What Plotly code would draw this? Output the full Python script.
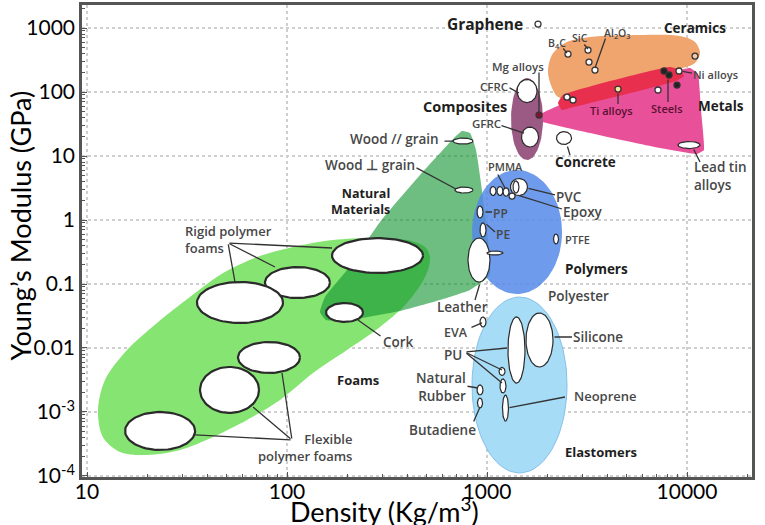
import numpy as np
import plotly.graph_objects as go

# ---------------- DATA (density kg/m3, Young's modulus GPa) ----------------
FOAMS_RHO = [518.8, 495.5, 398.1, 291.7, 199.5, 134.9, 92.3, 63.1, 42.7, 29.2, 19.95, 14.6,
             12.0, 11.35, 12.3, 15.85, 22.4, 32.7, 47.9, 70.8, 107.2, 169.8, 269.2, 398.1, 489.8]
FOAMS_E = [0.264, 0.138, 0.0505, 0.0213, 0.0093, 0.00407, 0.00154, 7.5e-4, 4.07e-4, 2.55e-4, 2.13e-4,
           2.37e-4, 4.07e-4, 1.07e-3, 3.16e-3, 0.0093, 0.0246, 0.0626, 0.1486, 0.264, 0.379, 0.487,
           0.523, 0.487, 0.379]

NATURAL_RHO = [749.9, 822.2, 881, 944, 1012, 1035, 822, 582, 367.3, 206.5, 156.7, 146.2, 154.9,
               199.5, 291.7, 462.4, 691.8]
NATURAL_E = [24.6, 22.9, 12.4, 2.94, 0.487, 0.138, 0.0806, 0.0562, 0.0379, 0.0274, 0.0274, 0.0365,
             0.0626, 0.1655, 0.931, 5.05, 19.8]

CERAMICS_RHO = [2138, 2018, 2113, 2455, 3273, 5821, 9226, 10965, 11614, 10965, 9550, 3673, 2541, 2265]
CERAMICS_E = [107.4, 205.4, 378.6, 583.4, 722.8, 778, 750, 604, 406, 284, 237, 115.5, 77.8, 83.5]

METALS_RHO = [1778, 2317, 10351, 11350, 11749, 12162, 11220, 7328, 1841]
METALS_E = [42.2, 62.7, 237, 191, 52.3, 12.4, 10.75, 13.3, 35.2]

TI_STEEL_RHO = [2371, 2265, 2399, 8222, 9226, 9661, 8810, 2600]
TI_STEEL_E = [52.3, 67.3, 89.8, 246, 221, 177.8, 148.6, 56.2]

# class envelopes drawn as ellipses: centre density, centre modulus, half-spans (decades)
CLASS_NAMES = ["Composites", "Polymers", "Elastomers"]
CLASS_RHO = [1585, 1413, 1454]
CLASS_E = [37.8, 0.649, 0.00264]
CLASS_DRHO = [0.08, 0.225, 0.2375]
CLASS_DE = [0.64, 0.969, 1.375]

# individual materials (ellipses)
MAT_NAMES = ["Rigid foam 1", "Rigid foam 2", "Rigid foam 3", "Cork", "Flexible foam 1",
             "Flexible foam 2", "Flexible foam 3", "Wood // grain", "Wood ⊥ grain", "CFRC", "GFRC",
             "Concrete", "Leather", "PVC", "PVC core", "PMMA a", "PMMA b", "PMMA c", "PP", "PE", "PTFE",
             "Polyester", "Silicone", "PU", "PU b", "PU c", "Neoprene", "EVA", "Natural rubber",
             "Butadiene", "Lead tin alloys"]
MAT_RHO = [283.5, 112.8, 58.2, 193.9, 81.3, 51.6, 23.2, 758.6, 767, 1585, 1641, 2427, 912, 1445, 1396,
           1072, 1161, 1245, 922.6, 955, 2213, 1096, 1830, 1404, 1189, 1202, 1237, 955, 922.6, 922.6,
           10233]
MAT_E = [0.2786, 0.1054, 0.0514, 0.0359, 0.00711, 0.00221, 5.05e-4, 17.1, 2.94, 103.7, 19.8, 19.1,
         0.237, 3.28, 3.28, 2.84, 2.84, 2.74, 1.334, 0.698, 0.505, 0.305, 0.01334, 0.0093, 0.0043,
         0.00255, 0.00115, 0.0255, 0.00221, 0.00138, 14.86]
MAT_DRHO = [0.2275, 0.1625, 0.215, 0.0925, 0.155, 0.1475, 0.175, 0.05, 0.045, 0.05, 0.0425, 0.0375,
            0.055, 0.0425, 0.015, 0.015, 0.015, 0.015, 0.015, 0.015, 0.0125, 0.04, 0.0675, 0.0425,
            0.015, 0.015, 0.015, 0.015, 0.015, 0.0125, 0.055]
MAT_DE = [0.273, 0.242, 0.320, 0.148, 0.242, 0.359, 0.297, 0.047, 0.047, 0.18, 0.156, 0.10, 0.344,
          0.133, 0.094, 0.07, 0.07, 0.065, 0.094, 0.11, 0.078, 0.031, 0.422, 0.516, 0.0625, 0.11,
          0.203, 0.078, 0.078, 0.078, 0.055]

# point materials
DOT_NAMES = ["Graphene", "B4C", "SiC", "SiC b", "Al2O3", "Ceramic", "Ti alloys", "Mg/Al a", "Mg/Al b",
             "Mg alloys", "Steels a", "Steels b", "Ni alloys", "Metal a", "Metal b", "Epoxy"]
DOT_RHO = [1799, 2541, 3199, 3236, 3467, 10965, 4519, 2512, 2692, 1820, 7674, 8128, 9120, 8913, 7161, 1334]
DOT_E = [1155, 392.4, 453, 294, 220.7, 365, 111.4, 83.5, 75, 43.7, 213, 184.5, 213, 128.5, 107.5, 2.37]

X_TICKS = [10, 100, 1000, 10000]
X_TICKTEXT = ["10", "100", "1000", "10000"]
Y_TICKS = [1e-4, 1e-3, 0.01, 0.1, 1, 10, 100, 1000]
Y_TICKTEXT = ["10<sup>-4</sup>", "10<sup>-3</sup>", "0.01", "0.1", "1", "10", "100", "1000"]

# ---------------- STYLES ----------------
DOT_FILL = ["white", "white", "white", "white", "white", "#f3c9a8", "#f5e6a0", "white", "white",
            "#8b1030", "#222", "#222", "white", "#222", "white", "white"]
MAT_LINEW = [2.2] * 7 + [1.2] * 24
LABEL_FONT = "Open Sans"
AX_FONT = "Lato"
INK = "#333333"
GRAY = "#474747"
B = "#1e1e1e"


def ellipse(rho, e, dr, de, n=80):
    t = np.linspace(0, 2 * np.pi, n)
    return 10 ** (np.log10(rho) + dr * np.cos(t)), 10 ** (np.log10(e) + de * np.sin(t))


def closed(a):
    return list(a) + [a[0]]


fig = go.Figure()


def poly(xs, ys, fill, smooth=0.6):
    fig.add_trace(go.Scatter(x=closed(xs), y=closed(ys), mode="lines", fill="toself",
                             fillcolor=fill, line=dict(color="rgba(0,0,0,0)", width=0, shape="spline",
                                                       smoothing=smooth),
                             hoverinfo="skip", showlegend=False))


def ell(rho, e, dr, de, fill, line, lw):
    x, y = ellipse(rho, e, dr, de)
    fig.add_trace(go.Scatter(x=x, y=y, mode="lines", fill="toself", fillcolor=fill,
                             line=dict(color=line, width=lw), hoverinfo="skip", showlegend=False))


# envelopes
poly(FOAMS_RHO, FOAMS_E, "#86E472", smooth=0.9)
poly(NATURAL_RHO, NATURAL_E, "rgba(13,147,47,0.6)", smooth=0.4)
poly(CERAMICS_RHO, CERAMICS_E, "#F0A46E", smooth=0.9)
poly(METALS_RHO, METALS_E, "#E8509A", smooth=0.3)
poly(TI_STEEL_RHO, TI_STEEL_E, "#E8304E", smooth=0.4)

CLASS_FILL = ["#9B5A84", "rgba(85,138,232,0.85)", "#A6DCF6"]
CLASS_LINE = ["rgba(0,0,0,0)", "rgba(0,0,0,0)", "#86BFEA"]
for i in range(len(CLASS_NAMES)):
    ell(CLASS_RHO[i], CLASS_E[i], CLASS_DRHO[i], CLASS_DE[i], CLASS_FILL[i], CLASS_LINE[i], 1)

for i in range(len(MAT_NAMES)):
    ell(MAT_RHO[i], MAT_E[i], MAT_DRHO[i], MAT_DE[i], "white", "#2b2b2b", MAT_LINEW[i])

fig.add_trace(go.Scatter(x=DOT_RHO, y=DOT_E, mode="markers",
                         marker=dict(size=6, color=DOT_FILL, line=dict(color="#333", width=1.3)),
                         hoverinfo="skip", showlegend=False))

# ---------------- LABELS (positions in log10 units) ----------------
L = []
def lab(t, x, y, s=13.5, c=GRAY, xa="center", al="center", w=600):
    L.append(dict(text=t, x=x, y=y, xref="x", yref="y", showarrow=False, xanchor=xa, yanchor="middle",
                  align=al, font=dict(family=LABEL_FONT, size=s, color=c, weight=w)))

lab("Rigid polymer<br>foams", 1.48, -0.297, 13)
L[-1].update(xanchor="left", align="left")
lab("Flexible<br>polymer foams", 2.335, -3.555, 13, xa="right", al="right")
lab("Cork", 2.555, -1.906, 13.5)
lab("<b>Foams</b>", 2.355, -2.5, 13, B, w=700)
lab("Wood // grain", 2.535, 1.266, 13.5)
lab("Wood ⊥ grain", 2.415, 0.859, 13.5)
lab("<b>Natural<br>Materials</b>", 2.525, 0.297, 12.5, B, xa="right", al="right", w=700)
lab("<b>Graphene</b>", 2.99, 3.0625, 15.5, B, w=700)
lab("B<sub>4</sub>C", 3.35, 2.766, 10.5)
lab("SiC", 3.465, 2.844, 10.5)
lab("Al<sub>2</sub>O<sub>3</sub>", 3.65, 2.922, 10.5)
lab("<b>Ceramics</b>", 4.04, 3.0, 13.5, B, w=700)
lab("Mg alloys", 3.155, 2.406, 11.5)
lab("CFRC", 3.035, 2.094, 11.5)
lab("<b>Composites</b>", 2.89, 1.781, 14.5, B, w=700)
lab("GFRC", 2.995, 1.516, 11.5)
lab("Ti alloys", 3.62, 1.719, 11, "#5a1030")
lab("Steels", 3.9, 1.75, 11, "#5a1030")
lab("<b>Metals</b>", 4.17, 1.781, 13.5, B, w=700)
lab("Ni alloys", 4.14, 2.281, 11)
lab("Lead tin<br>alloys", 4.025, 0.6875, 13.5, xa="left", al="left")
lab("<b>Concrete</b>", 3.49, 0.906, 13.5, B, w=700)
lab("PMMA", 3.09, 0.844, 11)
lab("PVC", 3.41, 0.359, 13.5)
lab("Epoxy", 3.48, 0.125, 13.5)
lab("PP", 3.065, 0.109, 12)
lab("PE", 3.08, -0.234, 12)
lab("PTFE", 3.45, -0.297, 11)
lab("<b>Polymers</b>", 3.545, -0.766, 13.5, B, w=700)
lab("Leather", 2.875, -1.359, 13.5)
lab("Polyester", 3.455, -1.1875, 13.5)
lab("EVA", 2.845, -1.75, 12.5)
lab("Silicone", 3.555, -1.828, 13.5)
lab("PU", 2.83, -2.109, 13.5)
lab("Natural<br>Rubber", 2.905, -2.602, 13.5, xa="right", al="right")
lab("Neoprene", 3.59, -2.75, 13)
lab("Butadiene", 2.775, -3.281, 13.5)
lab("<b>Elastomers</b>", 3.57, -3.625, 13, B, w=700)

# axis titles (paper coordinates)
L.append(dict(text="Young’s Modulus (GPa)", x=-0.0925, y=0.533, xref="paper", yref="paper",
              showarrow=False, textangle=-90, xanchor="center", yanchor="middle",
              font=dict(family=AX_FONT, size=27, color="black")))
L.append(dict(text="Density (Kg/m<sup>3</sup>)", x=0.452, y=-0.07, xref="paper", yref="paper",
              showarrow=False, xanchor="center", yanchor="middle",
              font=dict(family=AX_FONT, size=27, color="black")))

# leader lines: (end x, end y, start x, start y) in log10 units
LEADERS = [
    (2.225, -0.4375, 1.705, -0.359), (1.94, -0.734, 1.705, -0.359), (1.74, -0.969, 1.705, -0.359),
    (1.54, -3.359, 2.025, -3.4375), (1.83, -2.922, 2.025, -3.4375), (1.975, -2.391, 2.025, -3.4375),
    (2.355, -1.5625, 2.475, -1.828),
    (2.83, 1.234, 2.78, 1.234),
    (2.845, 0.484, 2.64, 0.828),
    (3.16, 1.984, 3.105, 2.078),
    (3.185, 1.359, 3.065, 1.484),
    (3.26, 1.672, 3.26, 2.328),
    (3.40, 2.609, 3.375, 2.703),
    (3.505, 2.672, 3.48, 2.766),
    (3.54, 2.375, 3.595, 2.859),
    (3.655, 1.8125, 3.655, 2.0),
    (3.905, 1.844, 3.905, 2.219),
    (4.025, 2.297, 3.97, 2.328),
    (4.065, 0.906, 4.03, 1.125),
    (3.415, 1.016, 3.40, 1.172),
    (3.09, 0.5, 3.05, 0.734),
    (3.34, 0.391, 3.2, 0.5),
    (3.375, 0.172, 3.15, 0.391),
    (3.025, 0.125, 2.985, 0.125),
    (3.04, -0.1875, 2.99, -0.047),
    (2.94, -1.25, 2.965, -0.984),
    (3.425, -1.828, 3.33, -1.828),
    (3.39, -2.766, 3.105, -2.9375),
    (3.10, -2.0, 2.89, -2.0625), (3.075, -2.344, 2.89, -2.0625), (3.075, -2.547, 2.89, -2.0625),
    (2.975, -1.609, 2.915, -1.6875),
    (2.955, -2.625, 2.895, -2.594),
    (2.965, -2.922, 2.93, -3.172),
]
for xe, ye, xs, ys in LEADERS:
    L.append(dict(x=xe, y=ye, ax=xs, ay=ys, xref="x", yref="y", axref="x", ayref="y", text="",
                  showarrow=True, arrowhead=0, arrowwidth=1.3, arrowcolor=INK, standoff=0,
                  startstandoff=0))

minor_x = [m * 10 ** d for d in range(1, 5) for m in range(2, 10) if m * 10 ** d < 21000]
minor_y = [m * 10.0 ** d for d in range(-4, 4) for m in range(2, 10) if m * 10.0 ** d < 2200]

axis_common = dict(type="log", showgrid=True, gridcolor="#cfcfcf", griddash="dot", gridwidth=1.5,
                   showline=True, linecolor="#555", linewidth=2.5, mirror=True, ticks="inside",
                   ticklen=5, tickcolor="#555", zeroline=False, automargin=False,
                   tickfont=dict(family=AX_FONT, size=21, color="black"))

fig.update_layout(
    width=765, height=525, margin=dict(l=82, r=13, t=5, b=48, autoexpand=False),
    paper_bgcolor="white", plot_bgcolor="white",
    xaxis=dict(axis_common, range=[0.975, 4.325], tickmode="array", tickvals=X_TICKS,
               ticktext=X_TICKTEXT, ticklabelstandoff=-6,
               minor=dict(tickmode="array", tickvals=minor_x, ticks="inside", ticklen=3,
                          tickcolor="#555", showgrid=False)),
    yaxis=dict(axis_common, range=[-4.016, 3.36], tickmode="array", tickvals=Y_TICKS,
               ticktext=Y_TICKTEXT,
               minor=dict(tickmode="array", tickvals=minor_y, ticks="inside", ticklen=3,
                          tickcolor="#555", showgrid=False)),
    annotations=L,
)

fig.write_html("out.html", config={"displayModeBar": False},
               post_script="document.body.style.margin='0';document.body.style.padding='0';")
